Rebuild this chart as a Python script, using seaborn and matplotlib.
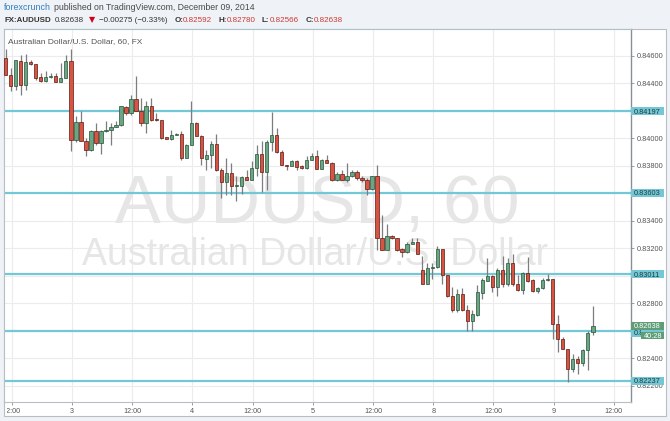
import numpy as np
import pandas as pd
import matplotlib
matplotlib.use("Agg")
import matplotlib.pyplot as plt
import seaborn as sns
from matplotlib.patches import Rectangle
from matplotlib.transforms import Bbox, TransformedBbox, blended_transform_factory

# ---------------- data (hourly AUD/USD candles, Dec 2 - Dec 9, 2014) ----------------
opens = [0.84585, 0.84464, 0.84379, 0.84565, 0.84386, 0.84556, 0.84541, 0.84444, 0.84415, 0.84447,
         0.84456, 0.84410, 0.84439, 0.84565, 0.83991, 0.84119, 0.83984, 0.83918, 0.84052, 0.83967,
         0.84052, 0.84059, 0.84083, 0.84095, 0.84231, 0.84185, 0.84289, 0.84202, 0.84112, 0.84238,
         0.84139, 0.84134, 0.84008, 0.83996, 0.84023, 0.84032, 0.83858, 0.83955, 0.84112, 0.84020,
         0.83853, 0.83877, 0.83962, 0.83773, 0.83681, 0.83749, 0.83652, 0.83656, 0.83720, 0.83695,
         0.83785, 0.83889, 0.83753, 0.83974, 0.84027, 0.83901, 0.83809, 0.83797, 0.83833, 0.83797,
         0.83783, 0.83846, 0.83875, 0.83780, 0.83843, 0.83821, 0.83695, 0.83744, 0.83700, 0.83724,
         0.83756, 0.83712, 0.83695, 0.83632, 0.83724, 0.83276, 0.83191, 0.83293, 0.83277, 0.83193,
         0.83176, 0.83234, 0.83248, 0.83043, 0.82938, 0.83057, 0.83064, 0.83193, 0.83004, 0.82854,
         0.82750, 0.82866, 0.82750, 0.82672, 0.82713, 0.82878, 0.82963, 0.82999, 0.82919, 0.83040,
         0.82938, 0.83096, 0.82938, 0.82895, 0.83018, 0.82967, 0.82890, 0.82909, 0.82967, 0.82980,
         0.82653, 0.82544, 0.82471, 0.82321, 0.82398, 0.82365, 0.82459, 0.82592]
highs = [0.84653, 0.84512, 0.84573, 0.84609, 0.84614, 0.84573, 0.84541, 0.84476, 0.84488, 0.84476,
         0.84476, 0.84549, 0.84609, 0.84653, 0.84161, 0.84197, 0.84003, 0.84064, 0.84112, 0.84064,
         0.84124, 0.84112, 0.84124, 0.84238, 0.84238, 0.84318, 0.84452, 0.84294, 0.84270, 0.84294,
         0.84185, 0.84136, 0.84010, 0.84064, 0.84039, 0.84056, 0.83959, 0.84270, 0.84119, 0.84027,
         0.83918, 0.83979, 0.84035, 0.83785, 0.83858, 0.83821, 0.83729, 0.83729, 0.83773, 0.83833,
         0.83955, 0.83979, 0.83991, 0.84190, 0.84076, 0.83918, 0.83809, 0.83846, 0.83846, 0.83809,
         0.83870, 0.83894, 0.83913, 0.83850, 0.83882, 0.83826, 0.83753, 0.83768, 0.83821, 0.83768,
         0.83768, 0.83724, 0.83710, 0.83729, 0.83809, 0.83446, 0.83380, 0.83300, 0.83277, 0.83205,
         0.83246, 0.83277, 0.83277, 0.83144, 0.83091, 0.83096, 0.83217, 0.83197, 0.83004, 0.82921,
         0.82907, 0.82914, 0.82786, 0.82752, 0.82931, 0.82987, 0.83132, 0.83004, 0.83059, 0.83144,
         0.83132, 0.83156, 0.83004, 0.83028, 0.83139, 0.82975, 0.82921, 0.82987, 0.83011, 0.82980,
         0.82713, 0.82558, 0.82471, 0.82430, 0.82418, 0.82466, 0.82599, 0.82780]
lows = [0.84459, 0.84347, 0.84355, 0.84318, 0.84355, 0.84536, 0.84427, 0.84408, 0.84410, 0.84439,
        0.84408, 0.84410, 0.84439, 0.83906, 0.83974, 0.83979, 0.83875, 0.83906, 0.83955, 0.83887,
        0.84047, 0.83955, 0.84081, 0.84093, 0.84173, 0.84173, 0.84197, 0.84088, 0.84039, 0.84129,
        0.84129, 0.83998, 0.83993, 0.83991, 0.84023, 0.83846, 0.83858, 0.83955, 0.84015, 0.83809,
        0.83773, 0.83785, 0.83761, 0.83567, 0.83591, 0.83591, 0.83543, 0.83598, 0.83695, 0.83695,
        0.83724, 0.83608, 0.83627, 0.83906, 0.83894, 0.83804, 0.83773, 0.83797, 0.83773, 0.83780,
        0.83778, 0.83841, 0.83780, 0.83778, 0.83821, 0.83688, 0.83688, 0.83695, 0.83683, 0.83720,
        0.83700, 0.83683, 0.83591, 0.83627, 0.83191, 0.83191, 0.83191, 0.83269, 0.83181, 0.83139,
        0.83168, 0.83229, 0.83156, 0.82938, 0.82938, 0.82975, 0.83059, 0.82938, 0.82849, 0.82737,
        0.82737, 0.82745, 0.82599, 0.82599, 0.82708, 0.82834, 0.82963, 0.82883, 0.82854, 0.82921,
        0.82926, 0.82926, 0.82890, 0.82871, 0.82958, 0.82885, 0.82873, 0.82907, 0.82963, 0.82539,
        0.82447, 0.82466, 0.82229, 0.82297, 0.82285, 0.82345, 0.82316, 0.82566]
closes = [0.84464, 0.84379, 0.84568, 0.84386, 0.84556, 0.84541, 0.84439, 0.84415, 0.84449, 0.84456,
          0.84410, 0.84439, 0.84565, 0.83991, 0.84119, 0.83979, 0.83918, 0.84052, 0.83967, 0.84056,
          0.84061, 0.84086, 0.84100, 0.84233, 0.84185, 0.84289, 0.84197, 0.84112, 0.84238, 0.84136,
          0.84132, 0.84003, 0.83996, 0.84027, 0.84035, 0.83858, 0.83955, 0.84112, 0.84020, 0.83858,
          0.83882, 0.83962, 0.83773, 0.83681, 0.83749, 0.83652, 0.83661, 0.83720, 0.83695, 0.83785,
          0.83889, 0.83753, 0.83974, 0.84027, 0.83899, 0.83804, 0.83797, 0.83833, 0.83792, 0.83783,
          0.83846, 0.83875, 0.83780, 0.83841, 0.83821, 0.83695, 0.83744, 0.83700, 0.83724, 0.83756,
          0.83712, 0.83695, 0.83632, 0.83724, 0.83276, 0.83191, 0.83293, 0.83274, 0.83185, 0.83176,
          0.83234, 0.83248, 0.83161, 0.82938, 0.83059, 0.83067, 0.83193, 0.83004, 0.82854, 0.82750,
          0.82866, 0.82750, 0.82672, 0.82720, 0.82883, 0.82967, 0.82999, 0.82919, 0.83040, 0.82938,
          0.83096, 0.82938, 0.82895, 0.83018, 0.82963, 0.82890, 0.82914, 0.82967, 0.82980, 0.82648,
          0.82544, 0.82471, 0.82321, 0.82398, 0.82365, 0.82459, 0.82587, 0.82638]

time_tick_labels = ["12:00", "3", "12:00", "4", "12:00", "5", "12:00", "8", "12:00", "9", "12:00"]
price_ticks = [0.822, 0.824, 0.826, 0.828, 0.830, 0.832, 0.834, 0.836, 0.838, 0.840, 0.842, 0.844, 0.846]
level_lines = [0.84197, 0.83603, 0.83011, 0.82600, 0.82237]
last_price = 0.82638
countdown = "40:28"

df = pd.DataFrame({"open": opens, "high": highs, "low": lows, "close": closes})
df["x"] = np.arange(len(df))
df["up"] = df["close"] >= df["open"]

# ---------------- style ----------------
sns.set_theme(style="white")
plt.rcParams["font.family"] = ["Liberation Sans", "DejaVu Sans"]

W, H = 670, 421
fig = plt.figure(figsize=(W / 100, H / 100), dpi=100)
fig.patch.set_facecolor("#eff2f6")

def fx(px):
    return px / W

def fy(py):
    return 1 - py / H

PL, PR, PT, PB = 4, 631, 29, 401.5
# white panel behind chart + price scale
fig.add_artist(Rectangle((fx(PL), fy(416)), fx(666 - PL), (416 - PT) / H,
                         transform=fig.transFigure, facecolor="white",
                         edgecolor="#b9bec4", linewidth=0.8, zorder=-5))

ax = fig.add_axes([fx(PL), fy(PB), fx(PR - PL), (PB - PT) / H])
ax.set_facecolor("white")

ymin, ymax = 0.820855, 0.847965
ax.set_ylim(ymin, ymax)
ax.set_xlim(-0.32, 124.6)

# grid
for p in price_ticks:
    ax.axhline(p, color="#ececec", lw=0.8, zorder=0)
xt = [1.2 + 12 * k for k in range(len(time_tick_labels))]
for x in xt:
    ax.axvline(x, color="#ececec", lw=0.8, zorder=0)

# watermark
ax.text(0.5, 0.478, "AUDUSD, 60", transform=ax.transAxes, ha="center", va="baseline",
        fontsize=49.5, color="#e6e6e6", zorder=0.5)
ax.text(0.496, 0.367, "Australian Dollar/U.S. Dollar", transform=ax.transAxes, ha="center",
        va="baseline", fontsize=27, color="#e6e6e6", zorder=0.5)

# level lines
teal = "#74c7d4"
for lv in level_lines:
    ax.axhline(lv, color=teal, lw=1.6, zorder=1)

# candles
up_fill, dn_fill = "#6ba583", "#d75442"
up_edge, dn_edge = "#225437", "#5b1a13"
ax.vlines(df["x"], df["low"], df["high"], color="#7d7d80", lw=0.9, zorder=2)
body_bottom = np.minimum(df["open"], df["close"])
body_h = np.maximum(np.abs(df["close"] - df["open"]), 0.00004)
ax.bar(df["x"], body_h, bottom=body_bottom, width=0.66,
       color=np.where(df["up"], up_fill, dn_fill),
       edgecolor=np.where(df["up"], up_edge, dn_edge), linewidth=0.5, zorder=3)

# axes cosmetics
for s in ["left", "bottom"]:
    ax.spines[s].set_color("#b9bec4")
    ax.spines[s].set_linewidth(0.8)
ax.spines["top"].set_color("#a9c3c8")
ax.spines["top"].set_linewidth(0.8)
ax.spines["right"].set_color("#8a8f94")
ax.spines["right"].set_linewidth(1.0)

# price scale: labels hidden behind the coloured level boxes are left blank
covered = {0.842, 0.836, 0.830, 0.826}
ax.yaxis.tick_right()
ax.set_yticks(price_ticks)
ax.set_yticklabels(["" if round(p, 3) in covered else f"{p:.5f}" for p in price_ticks])
ax.tick_params(axis="y", length=2.5, width=0.6, color="#8a8f94", pad=1.5,
               labelsize=5.3, labelcolor="#555555", right=True, left=False)
ax.set_xticks(xt)
ax.set_xticklabels(time_tick_labels)
ax.tick_params(axis="x", length=2.5, width=0.6, color="#8a8f94", pad=2,
               labelsize=5.2, labelcolor="#555555", bottom=True)
clip = TransformedBbox(Bbox.from_extents(fx(6.5), 0, fx(666), 1), fig.transFigure)
for lab in ax.get_xticklabels():
    lab.set_clip_box(clip)
    lab.set_clip_on(True)
ax.set_xlabel("")
ax.set_ylabel("")

# price-scale labels (boxes)
bt = blended_transform_factory(fig.transFigure, ax.transData)
ppx = (ymax - ymin) / (PB - PT)  # price per pixel

def price_box(price, text, fc, tc, x0=631, x1=664, hpx=8, dy=0.0, clip_x=None):
    yc = price - dy * ppx
    fig.add_artist(Rectangle((fx(x0), yc - hpx / 2 * ppx), fx(x1 - x0), hpx * ppx,
                             transform=bt, facecolor=fc, edgecolor="none", zorder=4))
    t = fig.text(fx(x0 + 2.5), yc, text, transform=bt, ha="left", va="center_baseline",
                 fontsize=5.3, color=tc, zorder=5)
    if clip_x is not None:
        t.set_clip_box(TransformedBbox(Bbox.from_extents(0, 0, fx(clip_x), 1), fig.transFigure))
        t.set_clip_on(True)

for lv in [0.84197, 0.83603, 0.83011, 0.82237]:
    price_box(lv, f"{lv:.5f}", teal, "#1f3d44")
price_box(0.82600, "0.82600", teal, "#1f3d44", dy=2, clip_x=640.5)
price_box(last_price, f"{last_price:.5f}", "#5f9d78", "white")
price_box(last_price, countdown, "#5f9d78", "white", x0=641, x1=664, hpx=7.5, dy=10)

# header
red = "#c93a35"
fig.text(fx(4), fy(10), "forexcrunch", fontsize=6.4, color="#2f7dbf", va="baseline")
fig.text(fx(54), fy(10), "published on TradingView.com, December 09, 2014", fontsize=6.3,
         color="#4a4a4a", va="baseline")
fig.text(fx(4.5), fy(22), "FX:AUDUSD", fontsize=5.7, color="#333333", fontweight="bold", va="baseline")
fig.text(fx(54.3), fy(22), "0.82638", fontsize=5.8, color="#333333", va="baseline")
fig.text(fx(89), fy(22), "▼", fontsize=5.8, color="#d0021b", va="baseline",
         family=["DejaVu Sans"])
fig.text(fx(98.7), fy(22), "−0.00275 (−0.33%)", fontsize=5.8, color="#333333", va="baseline")
for lab_x, lab, val_x, val in [(174.3, "O:", 182.7, "0.82592"), (218.7, "H:", 226.7, "0.82780"),
                               (262, "L:", 270, "0.82566"), (305.3, "C:", 313.3, "0.82638")]:
    fig.text(fx(lab_x), fy(22), lab, fontsize=5.8, color="#333333", fontweight="bold", va="baseline")
    fig.text(fx(val_x), fy(22), val, fontsize=5.8, color=red, va="baseline")

fig.text(fx(8), fy(43), "Australian Dollar/U.S. Dollar, 60, FX", fontsize=6.0,
         color="#555555", va="baseline")

fig.savefig("out.png", dpi=100, facecolor=fig.get_facecolor())
